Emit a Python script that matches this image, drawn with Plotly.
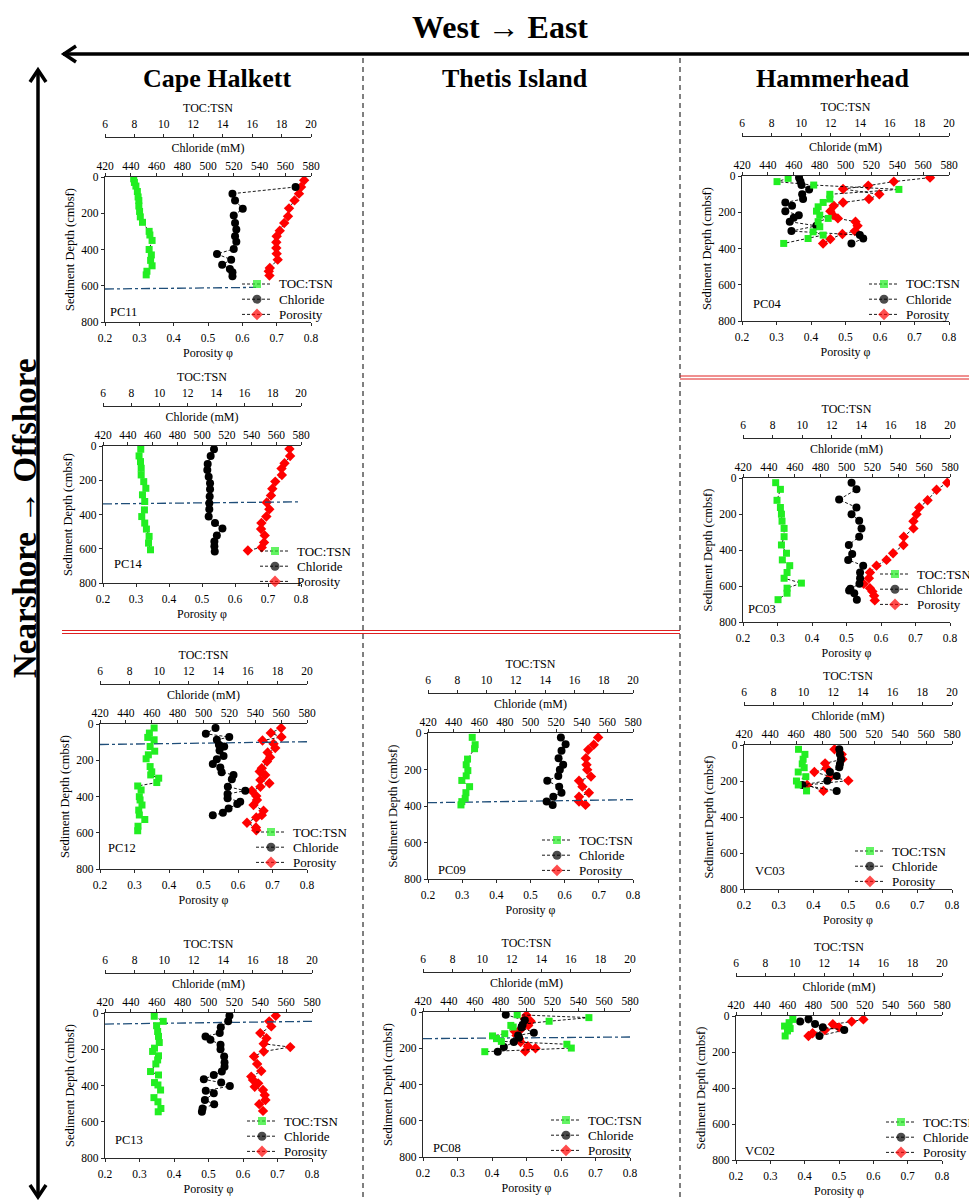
import plotly.graph_objects as go

# ---------------- DATA ----------------
PANEL_NAMES = ["PC11", "PC14", "PC12", "PC13", "PC09", "PC08", "PC04", "PC03", "VC03", "VC02"]

PC11_TOC_D = [10, 30, 50, 80, 110, 130, 160, 190, 220, 250, 300, 320, 350, 400, 430, 460, 490, 520, 540]
PC11_TOC = [7.95, 8.0, 8.1, 8.2, 8.25, 8.3, 8.3, 8.35, 8.4, 8.55, 9.0, 9.05, 9.2, 9.0, 9.15, 9.1, 9.2, 8.85, 8.8]
PC11_CL_D = [55, 92, 129, 175, 213, 254, 290, 327, 357, 397, 425, 456, 484, 508, 526, 548]
PC11_CL = [568, 519, 521, 527, 520, 521, 522, 521, 522, 520, 507, 518, 511, 517, 519, 519]
PC11_POR_D = [18, 55, 92, 129, 173, 217, 254, 296, 327, 360, 392, 423, 456, 502, 520, 544]
PC11_POR = [0.78, 0.771, 0.765, 0.752, 0.736, 0.733, 0.722, 0.709, 0.70, 0.699, 0.699, 0.70, 0.703, 0.68, 0.677, 0.679]
PC11_SMTZ_D = [618, 609]
PC11_SMTZ_X = [0.2, 0.64]

PC14_TOC_D = [19, 58, 91, 130, 169, 208, 247, 285, 324, 373, 412, 450, 485, 528, 567, 606]
PC14_TOC = [8.67, 8.55, 8.65, 8.7, 8.7, 8.88, 9.03, 8.79, 8.95, 8.93, 8.74, 8.95, 9.07, 9.26, 9.22, 9.36]
PC14_CL_D = [19, 58, 105, 140, 179, 217, 252, 295, 334, 369, 412, 450, 482, 522, 557, 586, 616]
PC14_CL = [509.7, 507, 504.6, 504.3, 505.4, 506.5, 506.5, 506.2, 505.9, 505.9, 505.4, 510.5, 516.5, 512, 510, 510, 510.3]
PC14_POR_D = [17, 58, 101, 132, 169, 208, 250, 289, 330, 369, 412, 450, 485, 522, 563, 592, 610]
PC14_POR = [0.765, 0.767, 0.75, 0.741, 0.742, 0.722, 0.713, 0.709, 0.696, 0.704, 0.695, 0.68, 0.679, 0.69, 0.688, 0.681, 0.639]
PC14_SMTZ_D = [338, 326]
PC14_SMTZ_X = [0.2, 0.8]

PC12_TOC_D = [22, 50, 74, 87, 124, 150, 170, 192, 235, 264, 281, 299, 323, 342, 364, 401, 419, 447, 475, 502, 527, 564, 589]
PC12_TOC = [9.66, 9.34, 9.23, 9.66, 9.39, 9.70, 9.27, 9.12, 9.39, 9.50, 9.43, 9.97, 9.84, 8.55, 8.78, 8.66, 8.71, 8.84, 8.62, 8.66, 9.03, 8.57, 8.55]
PC12_CL_D = [22, 54, 72, 87, 115, 124, 146, 176, 194, 220, 240, 266, 281, 305, 346, 368, 386, 410, 429, 442, 466, 490, 504]
PC12_CL = [509.3, 501.8, 519.9, 510.3, 511.9, 516, 512.4, 515.5, 510.3, 507.2, 513, 514, 523.2, 521.9, 518.8, 532.3, 518.6, 518.6, 528.4, 526.1, 519.4, 515, 507.2]
PC12_POR_D = [22, 50, 72, 91, 109, 133, 157, 183, 207, 244, 262, 281, 309, 327, 346, 368, 397, 419, 447, 479, 503, 516, 545, 571, 586]
PC12_POR = [0.725, 0.695, 0.726, 0.671, 0.703, 0.708, 0.686, 0.693, 0.684, 0.669, 0.663, 0.679, 0.665, 0.691, 0.665, 0.640, 0.653, 0.655, 0.645, 0.674, 0.669, 0.653, 0.626, 0.652, 0.653]
PC12_SMTZ_D = [113, 98]
PC12_SMTZ_X = [0.2, 0.8]

PC13_TOC_D = [18, 46, 70, 102, 129, 163, 194, 212, 236, 259, 281, 323, 342, 384, 397, 425, 467, 490, 527, 545]
PC13_TOC = [9.33, 9.94, 9.49, 9.56, 9.62, 9.67, 9.35, 9.22, 9.62, 9.56, 9.44, 9.08, 9.62, 9.35, 9.58, 9.76, 9.31, 9.58, 9.78, 9.6]
PC13_CL_D = [15, 46, 79, 111, 129, 148, 175, 200, 240, 273, 296, 323, 342, 366, 384, 403, 429, 443, 480, 503, 527, 545]
PC13_CL = [516.2, 515.2, 509.5, 508.7, 497.7, 501.5, 509.3, 509.3, 512.1, 512.4, 512.4, 510.3, 504.1, 496.4, 509.8, 516.5, 497.9, 504.1, 497.2, 504.4, 495.4, 494.9]
PC13_POR_D = [15, 46, 74, 111, 139, 170, 188, 212, 240, 281, 320, 351, 370, 388, 407, 425, 453, 480, 503, 540]
PC13_POR = [0.695, 0.676, 0.682, 0.650, 0.668, 0.660, 0.737, 0.660, 0.632, 0.641, 0.653, 0.624, 0.629, 0.644, 0.634, 0.658, 0.663, 0.665, 0.647, 0.658]
PC13_SMTZ_D = [61, 46]
PC13_SMTZ_X = [0.2, 0.8]

PC09_TOC_D = [24, 64, 86, 143, 174, 206, 235, 260, 294, 327, 358, 376, 394]
PC09_TOC = [9.02, 9.22, 9.18, 8.70, 8.61, 8.72, 8.61, 8.31, 8.84, 8.59, 8.54, 8.31, 8.25]
PC09_CL_D = [24, 61, 97, 138, 174, 202, 235, 262, 294, 327, 349, 376, 394]
PC09_CL = [523.7, 527.4, 524.2, 521.9, 525.5, 522.9, 521.7, 513.1, 522.4, 524.2, 517.8, 512.6, 517.3]
PC09_POR_D = [24, 64, 92, 138, 174, 202, 239, 262, 294, 327, 349, 376, 394]
PC09_POR = [0.698, 0.685, 0.669, 0.662, 0.664, 0.666, 0.677, 0.642, 0.652, 0.671, 0.642, 0.642, 0.661]
PC09_SMTZ_D = [382, 365]
PC09_SMTZ_X = [0.2, 0.8]

PC08_TOC_D = [15, 31, 51, 74, 83, 120, 132, 147, 162, 178, 199, 219]
PC08_TOC = [12.37, 17.22, 14.53, 11.94, 12.1, 11.53, 10.70, 10.97, 11.3, 15.73, 16.03, 10.18]
PC08_CL_D = [15, 46, 70, 86, 114, 129, 142, 166, 193, 219]
PC08_CL = [484, 498.7, 497, 496.1, 505.7, 493.5, 494.3, 490.2, 482.5, 477.8]
PC08_POR_D = [18, 37, 51, 74, 92, 107, 129, 147, 166, 189, 200, 217]
PC08_POR = [0.50, 0.495, 0.512, 0.505, 0.485, 0.466, 0.471, 0.479, 0.483, 0.504, 0.526, 0.496]
PC08_SMTZ_D = [147, 138]
PC08_SMTZ_X = [0.2, 0.8]

PC04_TOC_D = [13, 31, 50, 74, 101, 127, 146, 170, 194, 216, 234, 252, 280, 308, 326, 345, 372]
PC04_TOC = [9.12, 8.37, 10.85, 16.61, 11.94, 11.94, 11.49, 11.15, 11.04, 11.26, 11.83, 11.15, 11.26, 10.81, 11.49, 10.47, 8.82]
PC04_CL_D = [9, 31, 50, 74, 101, 127, 146, 164, 194, 216, 230, 252, 275, 304, 326, 345, 372]
PC04_CL = [464.1, 465.2, 466, 471.9, 466.5, 467.2, 453.5, 458.7, 453.5, 463.9, 460, 456.9, 477.5, 458.2, 511.1, 513.7, 504.6]
PC04_POR_D = [9, 31, 53, 72, 101, 127, 146, 164, 194, 216, 234, 252, 275, 304, 320, 348, 372]
PC04_POR = [0.745, 0.64, 0.566, 0.493, 0.598, 0.568, 0.493, 0.466, 0.456, 0.464, 0.478, 0.529, 0.535, 0.527, 0.491, 0.456, 0.435]

PC03_TOC_D = [26, 63, 124, 164, 201, 240, 280, 326, 372, 418, 455, 487, 525, 557, 584, 612, 640, 676]
PC03_TOC = [8.21, 8.53, 8.3, 8.53, 8.6, 8.64, 8.78, 8.78, 8.6, 8.94, 8.66, 9.16, 8.98, 8.78, 9.95, 8.98, 8.98, 8.37]
PC03_CL_D = [26, 63, 120, 164, 201, 238, 280, 326, 372, 422, 455, 487, 525, 557, 588, 615, 625, 640, 676]
PC03_CL = [503.9, 507.7, 494.3, 507.7, 503.9, 509.8, 511.6, 509.8, 501.8, 504.4, 501.3, 512.9, 510.5, 510.5, 510, 503, 502, 506, 508]
PC03_POR_D = [26, 65, 124, 164, 201, 240, 280, 326, 372, 418, 455, 487, 525, 557, 588, 612, 630, 654, 680]
PC03_POR = [0.792, 0.761, 0.735, 0.711, 0.703, 0.694, 0.694, 0.666, 0.665, 0.635, 0.616, 0.587, 0.568, 0.565, 0.55, 0.568, 0.575, 0.58, 0.582]

VC03_TOC_D = [24, 52, 79, 105, 126, 150, 176, 200, 222, 255]
VC03_TOC = [9.67, 10.1, 9.98, 9.92, 10.05, 9.65, 10.16, 9.53, 9.65, 10.21]
VC03_CL_D = [24, 52, 79, 105, 124, 150, 172, 198, 222, 255]
VC03_CL = [493.3, 493.8, 494.6, 493.8, 493.3, 486.1, 491.3, 484.1, 465, 491.3]
VC03_POR_D = [24, 52, 79, 102, 129, 150, 176, 198, 222, 255]
VC03_POR = [0.461, 0.482, 0.484, 0.434, 0.438, 0.403, 0.45, 0.501, 0.382, 0.429]

VC02_TOC_D = [19, 37, 56, 70, 83, 111]
VC02_TOC = [9.86, 9.61, 9.3, 9.68, 9.5, 9.34]
VC02_CL_D = [17, 31, 44, 63, 78, 111]
VC02_CL = [476.3, 469.8, 481.4, 487.4, 504.1, 484.8]
VC02_POR_D = [19, 31, 46, 63, 78, 96, 111]
VC02_POR = [0.571, 0.537, 0.482, 0.5, 0.459, 0.423, 0.411]

SERIES_NAMES = ["TOC:TSN", "Chloride", "Porosity"]
POROSITY_TICKS = [0.2, 0.3, 0.4, 0.5, 0.6, 0.7, 0.8]
CHLORIDE_TICKS = [420, 440, 460, 480, 500, 520, 540, 560, 580]
TOC_TICKS = [6, 8, 10, 12, 14, 16, 18, 20]
DEPTH_TICKS = [0, 200, 400, 600, 800]

DATA = {
    "PC11": (PC11_TOC_D, PC11_TOC, PC11_CL_D, PC11_CL, PC11_POR_D, PC11_POR, PC11_SMTZ_D, PC11_SMTZ_X),
    "PC14": (PC14_TOC_D, PC14_TOC, PC14_CL_D, PC14_CL, PC14_POR_D, PC14_POR, PC14_SMTZ_D, PC14_SMTZ_X),
    "PC12": (PC12_TOC_D, PC12_TOC, PC12_CL_D, PC12_CL, PC12_POR_D, PC12_POR, PC12_SMTZ_D, PC12_SMTZ_X),
    "PC13": (PC13_TOC_D, PC13_TOC, PC13_CL_D, PC13_CL, PC13_POR_D, PC13_POR, PC13_SMTZ_D, PC13_SMTZ_X),
    "PC09": (PC09_TOC_D, PC09_TOC, PC09_CL_D, PC09_CL, PC09_POR_D, PC09_POR, PC09_SMTZ_D, PC09_SMTZ_X),
    "PC08": (PC08_TOC_D, PC08_TOC, PC08_CL_D, PC08_CL, PC08_POR_D, PC08_POR, PC08_SMTZ_D, PC08_SMTZ_X),
    "PC04": (PC04_TOC_D, PC04_TOC, PC04_CL_D, PC04_CL, PC04_POR_D, PC04_POR, None, None),
    "PC03": (PC03_TOC_D, PC03_TOC, PC03_CL_D, PC03_CL, PC03_POR_D, PC03_POR, None, None),
    "VC03": (VC03_TOC_D, VC03_TOC, VC03_CL_D, VC03_CL, VC03_POR_D, VC03_POR, None, None),
    "VC02": (VC02_TOC_D, VC02_TOC, VC02_CL_D, VC02_CL, VC02_POR_D, VC02_POR, None, None),
}

# ---------------- LAYOUT (pixel geometry, window coordinates) ----------------
OFF = 8                      # page body margin of the html page
W, H = 977 - OFF, 1200 - OFF  # figure size
BOX = {  # plot box: left, right, top, bottom
    "PC11": (105, 311, 177, 322),
    "PC14": (103, 301, 446, 583),
    "PC12": (100, 307, 724, 869),
    "PC13": (105, 312, 1013, 1158),
    "PC09": (428, 633, 733, 879),
    "PC08": (423, 630, 1012, 1157),
    "PC04": (742, 949, 176, 321),
    "PC03": (743, 950, 478, 622),
    "VC03": (744, 952, 745, 889),
    "VC02": (736, 942, 1016, 1160),
}
LEG = {  # legend: first marker centre
    "PC11": (257, 284), "PC14": (275, 551), "PC12": (271, 832), "PC13": (262, 1121),
    "PC09": (557, 840), "PC08": (566, 1120), "PC04": (884, 284), "PC03": (895, 574),
    "VC03": (870, 851), "VC02": (901, 1122),
}
LEG_STEP = 15.2
LAB = {  # panel label: left x, centre y
    "PC11": (108, 312), "PC14": (112, 564), "PC12": (106, 848), "PC13": (113, 1140),
    "PC09": (436, 870), "PC08": (431, 1148), "PC04": (751, 304), "PC03": (746, 609),
    "VC03": (753, 871), "VC02": (743, 1151),
}

FONT = "Liberation Serif, Times New Roman, serif"
AXC = "#2a2a2a"
GREEN = "#22ee22"
RED = "#ff0000"
SYMBOLS = ["square", "circle", "diamond"]
COLORS = [GREEN, "black", RED]
SIZES = [7, 8, 8]
TICK_SIZE = 11.5
TITLE_SIZE = 12
DASH = "3px,2px"


def px(x):
    return (x - OFF) / W


def py(y):
    return 1 - (y - OFF) / H


def aid(n, letter):
    return letter + ("" if n == 1 else str(n))


fig = go.Figure()
layout = dict(
    width=W, height=H, margin=dict(l=0, r=0, t=0, b=0), showlegend=False,
    paper_bgcolor="white", plot_bgcolor="rgba(0,0,0,0)",
    font=dict(family=FONT, size=12, color="black"),
    annotations=[], shapes=[],
)

npan = len(PANEL_NAMES)
LX, LY = 3 * npan + 1, npan + 1   # overlay axes (pixel units) used for legend keys

for i, name in enumerate(PANEL_NAMES):
    l, r, t, b = BOX[name]
    xp, xc, xt = 3 * i + 1, 3 * i + 2, 3 * i + 3
    yi = i + 1

    def common(standoff_lab=0):
        return dict(showgrid=False, zeroline=False, showline=True, linecolor=AXC, linewidth=1.4,
                    ticks="outside", ticklen=3, tickcolor=AXC, tickwidth=1,
                    ticklabelstandoff=standoff_lab,
                    tickfont=dict(family=FONT, size=TICK_SIZE, color="black"), automargin=False)

    layout[aid(xp, "xaxis")] = dict(
        domain=[px(l), px(r)], anchor=aid(yi, "y"), side="bottom", range=[0.2, 0.8],
        tickvals=POROSITY_TICKS, ticktext=[f"{v:.1f}" for v in POROSITY_TICKS],
        title=dict(text="Porosity φ", font=dict(family=FONT, size=TITLE_SIZE), standoff=5), **common(2))
    layout["xaxis" + str(xc)] = dict(
        overlaying=aid(xp, "x"), anchor=aid(yi, "y"), side="top", range=[420, 580],
        tickvals=CHLORIDE_TICKS,
        title=dict(text="Chloride (mM)", font=dict(family=FONT, size=TITLE_SIZE), standoff=5), **common(-2))
    layout["xaxis" + str(xt)] = dict(
        overlaying=aid(xp, "x"), anchor="free", position=py(t - 40), side="top", range=[6, 20],
        tickvals=TOC_TICKS,
        title=dict(text="TOC:TSN", font=dict(family=FONT, size=TITLE_SIZE), standoff=2), **common(1))
    layout[aid(yi, "yaxis")] = dict(
        domain=[py(b), py(t)], anchor=aid(xp, "x"), range=[800, 0], tickvals=DEPTH_TICKS,
        title=dict(text="Sediment Depth (cmbsf)", font=dict(family=FONT, size=12.5), standoff=3),
        **common(0))

    toc_d, toc, cl_d, cl, por_d, por, sm_d, sm_x = DATA[name]
    line = dict(color="black", width=0.9, dash=DASH)
    series = [(toc, toc_d, xt), (cl, cl_d, xc), (por, por_d, xp)]
    for k, (xv, yv, xa) in enumerate(series):
        fig.add_trace(go.Scatter(x=xv, y=yv, xaxis=aid(xa, "x"), yaxis=aid(yi, "y"),
                                 mode="lines+markers", name=f"{SERIES_NAMES[k]} ({name})",
                                 line=line, marker=dict(symbol=SYMBOLS[k], size=SIZES[k], color=COLORS[k])))
    if sm_d is not None:
        fig.add_trace(go.Scatter(x=sm_x, y=sm_d, xaxis=aid(xp, "x"), yaxis=aid(yi, "y"),
                                 mode="lines", hoverinfo="skip", name=f"SMTZ ({name})",
                                 line=dict(color="#1f4e79", width=1.3, dash="dashdot")))

    # legend keys for this panel (drawn on a pixel-unit overlay so rows are 15 px apart)
    lx, ly = LEG[name]
    for k in range(3):
        yk = ly + k * LEG_STEP
        fig.add_trace(go.Scatter(x=[lx - 15, lx, lx + 15], y=[yk, yk, yk],
                                 xaxis=aid(LX, "x"), yaxis=aid(LY, "y"), mode="lines+markers",
                                 hoverinfo="skip", name=f"key {SERIES_NAMES[k]} ({name})",
                                 line=dict(color="black", width=0.9, dash=DASH),
                                 marker=dict(symbol=SYMBOLS[k], size=[0, SIZES[k] + 1, 0], color=COLORS[k],
                                             line=dict(width=0))))
        layout["annotations"].append(dict(
            text=SERIES_NAMES[k], x=px(lx + 20), y=py(yk), xref="paper", yref="paper",
            xanchor="left", yanchor="middle", showarrow=False,
            font=dict(family=FONT, size=13, color="black")))

    labx, laby = LAB[name]
    layout["annotations"].append(dict(
        text=name, x=px(labx), y=py(laby), xref="paper", yref="paper",
        xanchor="left", yanchor="middle", showarrow=False,
        font=dict(family=FONT, size=12.5, color="black")))

layout[aid(LX, "xaxis")] = dict(domain=[0, 1], range=[OFF, 977], visible=False, anchor=aid(LY, "y"),
                                fixedrange=True)
layout[aid(LY, "yaxis")] = dict(domain=[0, 1], range=[1200, OFF], visible=False, anchor=aid(LX, "x"),
                                fixedrange=True)


# headings
def head(text, x, y, size, angle=0):
    return dict(text=f"<b>{text}</b>", x=px(x), y=py(y), xref="paper", yref="paper",
                xanchor="center", yanchor="middle", showarrow=False, textangle=angle,
                font=dict(family=FONT, size=size, color="black"))


layout["annotations"] += [
    head("West → East", 500, 27, 32),
    head("Cape Halkett", 217, 78, 26),
    head("Thetis Island", 515, 78, 26),
    head("Hammerhead", 833, 78, 26),
    head("Nearshore → Offshore", 25, 518, 33, -90),
]


def pline(x0, y0, x1, y1, color="black", width=1, dash="solid"):
    return dict(type="line", xref="paper", yref="paper", x0=px(x0), y0=py(y0), x1=px(x1), y1=py(y1),
                line=dict(color=color, width=width, dash=dash), layer="above")


def ppath(pts, color="black", width=3):
    d = "M " + " L ".join(f"{px(a):.5f},{py(c):.5f}" for a, c in pts)
    return dict(type="path", xref="paper", yref="paper", path=d,
                line=dict(color=color, width=width), layer="above")


layout["shapes"] += [
    pline(63, 54, 977, 54, width=3.5),
    ppath([(76, 46), (64, 54), (76, 62)], width=3.5),
    pline(38, 70, 38, 1197, width=3.5),
    ppath([(30, 82), (38, 70), (46, 82)], width=3.5),
    ppath([(30, 1185), (38, 1197), (46, 1185)], width=3.5),
    pline(363, 58, 363, 1198, width=1, dash="5px,4px"),
    pline(680, 58, 680, 1198, width=1, dash="5px,4px"),
    pline(62, 630.5, 680, 630.5, color="#e02020", width=1),
    pline(62, 633.5, 680, 633.5, color="#e02020", width=1),
    pline(680, 376, 977, 376, color="#e02020", width=1),
    pline(680, 379, 977, 379, color="#e02020", width=1),
]

fig.update_layout(**layout)
fig.write_html("out.html")
